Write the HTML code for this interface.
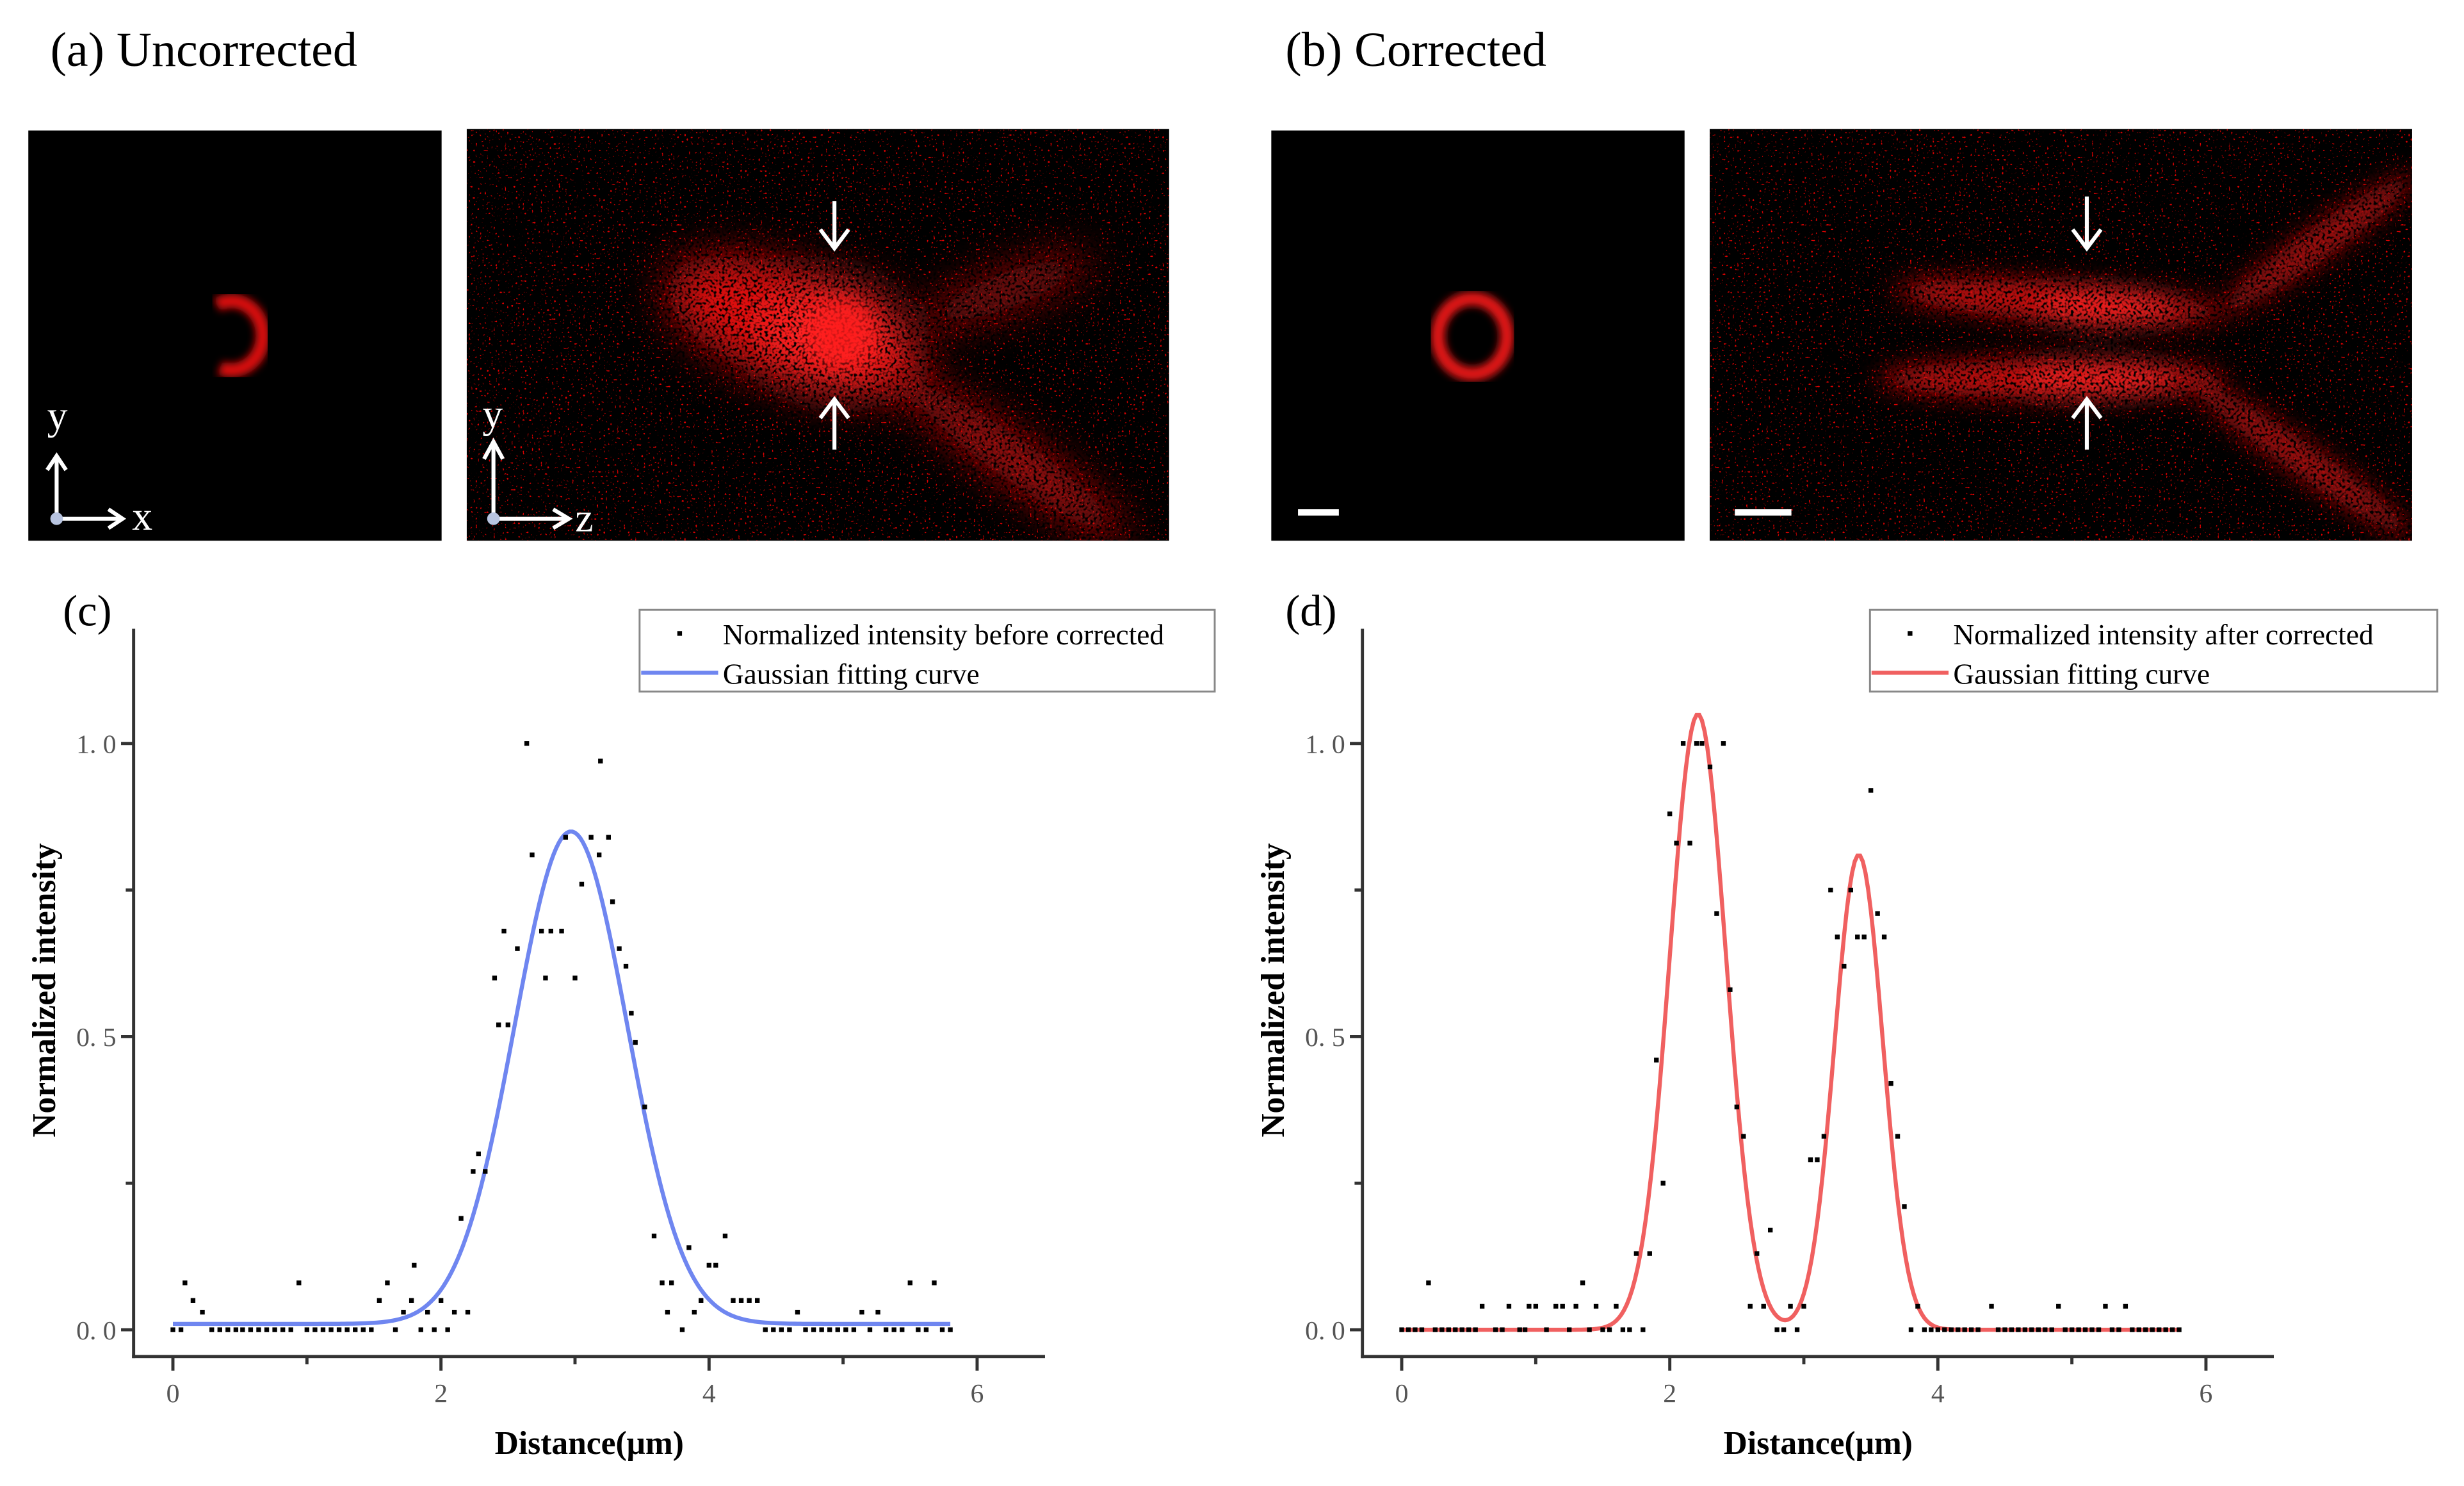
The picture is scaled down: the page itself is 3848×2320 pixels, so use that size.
<!DOCTYPE html>
<html><head><meta charset="utf-8">
<style>
html,body{margin:0;padding:0;background:#fff;}
svg{display:block;}
text{font-family:"Liberation Serif",serif;}
</style></head>
<body>
<svg id="fig" width="3848" height="2320" viewBox="0 0 1568 945.4" xmlns="http://www.w3.org/2000/svg">
<defs>
  <filter id="bgspeck" x="0" y="0" width="100%" height="100%">
    <feTurbulence type="fractalNoise" baseFrequency="0.7" numOctaves="1" seed="7" result="n"/>
    <feColorMatrix in="n" type="matrix" values="0 0 0 0 0.75  0 0 0 0 0  0 0 0 0 0  0 0 0 14 -9.3" result="r"/>
    <feComposite in="r" in2="SourceGraphic" operator="in"/>
  </filter>
  <filter id="blobspeck" x="-20%" y="-20%" width="140%" height="140%">
    <feGaussianBlur in="SourceGraphic" stdDeviation="14" result="b"/>
    <feTurbulence type="fractalNoise" baseFrequency="0.55" numOctaves="1" seed="11" result="n"/>
    <feColorMatrix in="n" type="matrix" values="0 0 0 0 1  0 0 0 0 0  0 0 0 0 0  0 0 0 5 -1.6" result="m"/>
    <feComposite in="b" in2="m" operator="in"/>
  </filter>
  <filter id="blobspeck2" x="-20%" y="-30%" width="140%" height="160%">
    <feGaussianBlur in="SourceGraphic" stdDeviation="8" result="b"/>
    <feTurbulence type="fractalNoise" baseFrequency="0.55" numOctaves="1" seed="5" result="n"/>
    <feColorMatrix in="n" type="matrix" values="0 0 0 0 1  0 0 0 0 0  0 0 0 0 0  0 0 0 5 -1.6" result="m"/>
    <feComposite in="b" in2="m" operator="in"/>
  </filter>
  <filter id="blur3"><feGaussianBlur stdDeviation="2.5"/></filter>
  <filter id="blur6"><feGaussianBlur stdDeviation="6"/></filter>
  <clipPath id="cA2"><rect x="297" y="82" width="447" height="262"/></clipPath>
  <clipPath id="cB2"><rect x="1088" y="82" width="447" height="262"/></clipPath>
</defs>

<text x="32" y="42" font-size="31">(a) Uncorrected</text>
<text x="818" y="42" font-size="31">(b) Corrected</text>

<!-- panel a1 -->
<g>
  <rect x="18" y="83" width="263" height="261" fill="#000"/>
  <path d="M138,194 A20,22 0 1 1 140,234" fill="none" stroke="#d81010" stroke-width="9" filter="url(#blur3)"/>
  <g stroke="#fff" stroke-width="2.5" fill="none">
    <line x1="36" y1="330" x2="36" y2="292"/><path d="M30,299 L36,290 L42,299"/>
    <line x1="36" y1="330" x2="76" y2="330"/><path d="M69,324 L78,330 L69,336"/>
  </g>
  <circle cx="36" cy="330" r="4" fill="#b8c4e0"/>
  <text x="30" y="273" font-size="26" fill="#fff">y</text>
  <text x="84" y="337" font-size="26" fill="#fff">x</text>
</g>

<!-- panel a2 -->
<g>
  <rect x="297" y="82" width="447" height="262" fill="#000"/>
  <g clip-path="url(#cA2)">
    <g filter="url(#bgspeck)"><rect x="297" y="82" width="447" height="262" fill="#fff"/></g>
    <g filter="url(#blobspeck)">
      <ellipse cx="505" cy="208" rx="85" ry="36" fill="#e01010" transform="rotate(20 505 208)"/>
      <ellipse cx="645" cy="292" rx="90" ry="13" fill="#c81010" transform="rotate(35 645 292)"/>
      <ellipse cx="640" cy="185" rx="60" ry="12" fill="#a01010" transform="rotate(-20 640 185)"/>
      <ellipse cx="530" cy="212" rx="42" ry="34" fill="#ff2020"/>
    </g>
    <ellipse cx="535" cy="212" rx="22" ry="22" fill="#ff1a1a" filter="url(#blur6)" opacity="0.8"/>
  </g>
  <g stroke="#fff" stroke-width="2.5" fill="none">
    <line x1="531" y1="128" x2="531" y2="157"/><path d="M522,146 L531,158 L540,146"/>
    <line x1="531" y1="286" x2="531" y2="255"/><path d="M522,266 L531,254 L540,266"/>
    <line x1="314" y1="330" x2="314" y2="283"/><path d="M308,292 L314,281 L320,292"/>
    <line x1="314" y1="330" x2="360" y2="330"/><path d="M352,324 L362,330 L352,336"/>
  </g>
  <circle cx="314" cy="330" r="4" fill="#b8c4e0"/>
  <text x="307" y="272" font-size="26" fill="#fff">y</text>
  <text x="366" y="338" font-size="26" fill="#fff">z</text>
</g>

<!-- panel b1 -->
<g>
  <rect x="809" y="83" width="263" height="261" fill="#000"/>
  <ellipse cx="937" cy="214" rx="22" ry="24" fill="none" stroke="#e01414" stroke-width="9" filter="url(#blur3)"/>
  <rect x="826" y="324" width="26" height="4" fill="#fff"/>
</g>

<!-- panel b2 -->
<g>
  <rect x="1088" y="82" width="447" height="262" fill="#000"/>
  <g clip-path="url(#cB2)">
    <g filter="url(#bgspeck)"><rect x="1088" y="82" width="447" height="262" fill="#fff"/></g>
    <g filter="url(#blobspeck2)">
      <ellipse cx="1310" cy="192" rx="105" ry="12" fill="#d01010" transform="rotate(4 1310 192)"/>
      <ellipse cx="1305" cy="241" rx="110" ry="12" fill="#d01010"/>
      <ellipse cx="1475" cy="155" rx="75" ry="10" fill="#b01010" transform="rotate(-35 1475 155)"/>
      <ellipse cx="1465" cy="292" rx="85" ry="10" fill="#b01010" transform="rotate(35 1465 292)"/>
      <ellipse cx="1340" cy="196" rx="45" ry="11" fill="#ff2020"/>
      <ellipse cx="1335" cy="241" rx="50" ry="11" fill="#ff2020"/>
    </g>
  </g>
  <g stroke="#fff" stroke-width="2.5" fill="none">
    <line x1="1328" y1="125" x2="1328" y2="157"/><path d="M1319,146 L1328,158 L1337,146"/>
    <line x1="1328" y1="286" x2="1328" y2="255"/><path d="M1319,266 L1328,254 L1337,266"/>
  </g>
  <rect x="1104" y="324" width="36" height="4" fill="#fff"/>
</g>

<g id="chartC"></g>
<g id="chartD"></g>
</svg>

<script>
// ----- data chart (c)
const cDotX = [0.00,0.06,0.09,0.15,0.22,0.29,0.35,0.41,0.47,0.52,
 0.58,0.64,0.70,0.76,0.82,0.88,0.94,1.00,1.06,1.12,
 1.18,1.24,1.30,1.36,1.42,1.48,1.54,1.60,1.66,1.72,
 1.78,1.80,1.85,1.90,1.95,2.00,2.05,2.10,2.15,2.20,
 2.24,2.28,2.33,2.40,2.43,2.47,2.50,2.57,2.64,2.68,
 2.75,2.78,2.82,2.90,2.93,3.00,3.05,3.12,3.18,3.19,
 3.25,3.28,3.33,3.38,3.42,3.45,3.52,3.59,3.65,3.69,
 3.72,3.80,3.85,3.89,3.94,4.00,4.05,4.12,4.18,4.24,
 4.30,4.36,4.42,4.48,4.54,4.60,4.66,4.72,4.78,4.84,
 4.90,4.96,5.02,5.08,5.14,5.20,5.26,5.32,5.38,5.44,
 5.50,5.56,5.62,5.68,5.74,5.80];
const cDotY = [0,0,0.08,0.05,0.03,0,0,0,0,0,
 0,0,0,0,0,0,0.08,0,0,0,
 0,0,0,0,0,0,0.05,0.08,0,0.03,
 0.05,0.11,0,0.03,0,0.05,0,0.03,0.19,0.03,
 0.27,0.30,0.27,0.60,0.52,0.68,0.52,0.65,1.00,0.81,
 0.68,0.60,0.68,0.68,0.84,0.60,0.76,0.84,0.81,0.97,
 0.84,0.73,0.65,0.62,0.54,0.49,0.38,0.16,0.08,0.03,
 0.08,0,0.14,0.03,0.05,0.11,0.11,0.16,0.05,0.05,
 0.05,0.05,0,0,0,0,0.03,0,0,0,
 0,0,0,0,0.03,0,0.03,0,0,0,
 0.08,0,0,0.08,0,0];
const cFitAmp = [0.84];
const cFitCenter = [2.97];
const cFitSigma = [0.42];
const cFitOffset = 0.01;

// ----- data chart (d)
const dDotX = [0.00,0.05,0.10,0.15,0.20,0.25,0.30,0.35,0.40,0.45,
 0.50,0.55,0.60,0.70,0.75,0.80,0.88,0.92,0.95,1.00,
 1.08,1.15,1.20,1.25,1.30,1.35,1.40,1.45,1.50,1.55,
 1.60,1.65,1.70,1.75,1.80,1.85,1.90,1.95,2.00,2.05,
 2.10,2.15,2.20,2.24,2.30,2.35,2.40,2.45,2.50,2.55,
 2.60,2.65,2.70,2.75,2.80,2.85,2.90,2.95,3.00,3.05,
 3.10,3.15,3.20,3.25,3.30,3.35,3.40,3.45,3.50,3.55,
 3.60,3.65,3.70,3.75,3.80,3.85,3.90,3.95,4.00,4.05,
 4.10,4.15,4.20,4.25,4.30,4.40,4.45,4.50,4.55,4.60,
 4.65,4.70,4.75,4.80,4.85,4.90,4.95,5.00,5.05,5.10,
 5.15,5.20,5.25,5.30,5.35,5.40,5.45,5.50,5.55,5.60,
 5.65,5.70,5.75,5.80];
const dDotY = [0,0,0,0,0.08,0,0,0,0,0,
 0,0,0.04,0,0,0.04,0,0,0.04,0.04,
 0,0.04,0.04,0,0.04,0.08,0,0.04,0,0,
 0.04,0,0,0.13,0,0.13,0.46,0.25,0.88,0.83,
 1.0,0.83,1.0,1.0,0.96,0.71,1.0,0.58,0.38,0.33,
 0.04,0.13,0.04,0.17,0,0,0.04,0,0.04,0.29,
 0.29,0.33,0.75,0.67,0.62,0.75,0.67,0.67,0.92,0.71,
 0.67,0.42,0.33,0.21,0,0.04,0,0,0,0,
 0,0,0,0,0,0.04,0,0,0,0,
 0,0,0,0,0,0.04,0,0,0,0,
 0,0,0.04,0,0,0.04,0,0,0,0,
 0,0,0,0];
const dFitAmp = [1.05, 0.81];
const dFitCenter = [2.21, 3.41];
const dFitSigma = [0.21, 0.18];
const dFitOffset = 0.0;

const xTicks = [0, 2, 4, 6];
const xMinor = [1, 3, 5];
const yTicks = [0, 0.5, 1.0];
const yTickLabels = ["0. 0", "0. 5", "1. 0"];
const yMinor = [0.25, 0.75];

const NS = "http://www.w3.org/2000/svg";
function mk(parent, tag, attrs, text) {
  const e = document.createElementNS(NS, tag);
  for (const k in attrs) e.setAttribute(k, attrs[k]);
  if (text !== undefined) e.textContent = text;
  parent.appendChild(e);
  return e;
}

function drawChart(g, o) {
  const x0 = o.x0, ppu = 85.3;
  const sx = v => x0 + v * ppu;
  const sy = v => 846 - v * 373;
  const axL = o.axL, axR = o.axR, axB = 863, axT = 400;
  const axes = mk(g, "g", {stroke: "#333", "stroke-width": 2, fill: "none"});
  
  
  mk(axes, "line", {x1: axL, y1: axT, x2: axL, y2: axB + 1});
  mk(axes, "line", {x1: axL - 1, y1: axB, x2: axR, y2: axB});
  xTicks.forEach(t => mk(axes, "line", {x1: sx(t), y1: axB, x2: sx(t), y2: axB + 9}));
  xMinor.forEach(t => mk(axes, "line", {x1: sx(t), y1: axB, x2: sx(t), y2: axB + 5}));
  yTicks.forEach(t => mk(axes, "line", {x1: axL, y1: sy(t), x2: axL - 8, y2: sy(t)}));
  yMinor.forEach(t => mk(axes, "line", {x1: axL, y1: sy(t), x2: axL - 5, y2: sy(t)}));
  xTicks.forEach(t => {
    const tx = mk(g, "text", {x: sx(t), y: 892, "font-size": 17, fill: "#555", "text-anchor": "middle"}, String(t));
    
    
  });
  yTicks.forEach((t, i) => {
    const tx = mk(g, "text", {x: axL - 11, y: sy(t) + 6, "font-size": 17, fill: "#555", "text-anchor": "end"}, yTickLabels[i]);
    
    
  });
  const xl = mk(g, "text", {x: o.xlabX, y: 925, "font-size": 21, "font-weight": "bold", "text-anchor": "middle"}, "Distance(μm)");
  
  
  const yl = mk(g, "text", {x: 0, y: 0, "font-size": 21, "font-weight": "bold", "text-anchor": "middle", transform: `translate(${o.ylabX},630) rotate(-90)`}, "Normalized intensity");
  
  
  const pl = mk(g, "text", {x: o.letterX, y: 398, "font-size": 28}, o.letter);
  
  

  let d = "";
  for (let k = 0; k <= 290; k++) {
    const xv = k * 0.02;
    let yv = o.off;
    for (let j = 0; j < o.amp.length; j++) yv += o.amp[j] * Math.exp(-Math.pow(xv - o.cen[j], 2) / (2 * o.sig[j] * o.sig[j]));
    d += (k ? "L" : "M") + sx(xv).toFixed(2) + "," + sy(yv).toFixed(2);
  }
  const curve = mk(g, "path", {d: d, fill: "none", stroke: o.color, "stroke-width": 2.6});
  
  

  const dots = mk(g, "g", {fill: "#000"});
  
  
  o.xs.forEach((xv, i) => {
    const r = mk(dots, "rect", {x: sx(xv) - 1.5, y: sy(o.ys[i]) - 1.5, width: 3, height: 3});
    
    
  });

  const lg = mk(g, "g", {});
  
  
  mk(lg, "rect", {x: o.lgX, y: 388, width: o.lgW, height: 52, fill: "#fff", stroke: "#888", "stroke-width": 1.2});
  mk(lg, "rect", {x: o.lgX + 24, y: 401.5, width: 3, height: 3, fill: "#000"});
  const t1 = mk(lg, "text", {x: o.lgX + 53, y: 410, "font-size": 18.5}, o.lgText);
  
  
  mk(lg, "line", {x1: o.lgX + 1, y1: 428, x2: o.lgX + 50, y2: 428, stroke: o.color, "stroke-width": 2.6});
  const t2 = mk(lg, "text", {x: o.lgX + 53, y: 435, "font-size": 18.5}, "Gaussian fitting curve");
  
  
}

drawChart(document.getElementById("chartC"), {
  x0: 110, axL: 85, axR: 665, xlabX: 375, ylabX: 35, letterX: 40, letter: "(c)",
  xs: cDotX, ys: cDotY, amp: cFitAmp, cen: cFitCenter, sig: cFitSigma, off: cFitOffset,
  color: "#6f86f0", lgX: 407, lgW: 366, lgText: "Normalized intensity before corrected"
});
drawChart(document.getElementById("chartD"), {
  x0: 892, axL: 867, axR: 1447, xlabX: 1157, ylabX: 817, letterX: 818, letter: "(d)",
  xs: dDotX, ys: dDotY, amp: dFitAmp, cen: dFitCenter, sig: dFitSigma, off: dFitOffset,
  color: "#f06060", lgX: 1190, lgW: 361, lgText: "Normalized intensity after corrected"
});
</script>
</body></html>
